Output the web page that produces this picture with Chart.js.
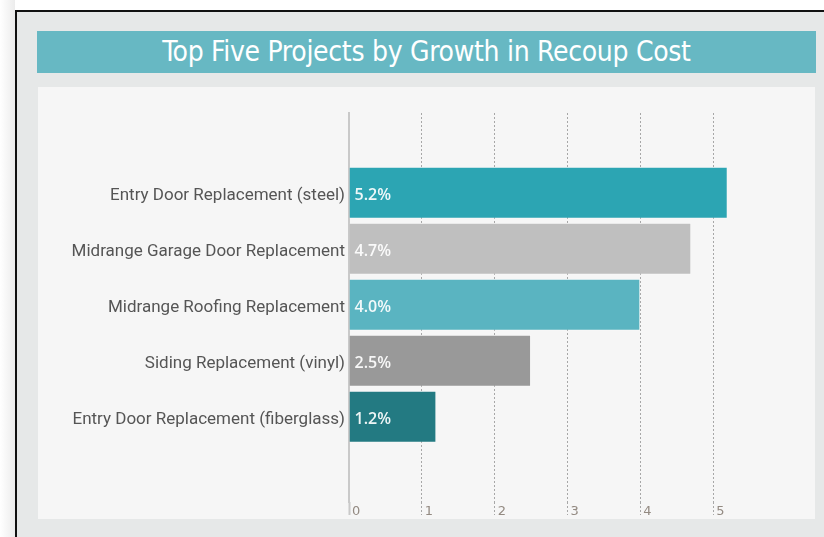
<!DOCTYPE html>
<html>
<head>
<meta charset="utf-8">
<script src="https://cdn.jsdelivr.net/npm/chart.js@4"></script>
<style>
  html, body { margin: 0; padding: 0; background: #ffffff; width: 824px; height: 537px; overflow: hidden; }
  #shadow { position: absolute; left: 0; top: 0; width: 15px; height: 537px;
    background: linear-gradient(to right, #ffffff, #ececec); }
  #frame { position: absolute; left: 15px; top: 10px; width: 820px; height: 540px;
    border-top: 2px solid #111; border-left: 2px solid #111; background: #e6e8e8; }
  #title { position: absolute; left: 37px; top: 31px; width: 779px; height: 42px;
    background: #67b8c3; color: #ffffff; text-align: center; line-height: 42px;
    font-family: "DejaVu Sans Condensed", "Liberation Sans", sans-serif; font-size: 28px; letter-spacing: -0.3px; }
  #panel { position: absolute; left: 38px; top: 87px; width: 777px; height: 432px; background: #f6f6f6; }
  canvas { display: block; }
</style>
</head>
<body>
<div id="shadow"></div>
<div id="frame"></div>
<div id="title">Top Five Projects by Growth in Recoup Cost</div>
<div id="panel"><canvas id="c" width="777" height="432"></canvas></div>
<script>
const categories = [
  "Entry Door Replacement (steel)",
  "Midrange Garage Door Replacement",
  "Midrange Roofing Replacement",
  "Siding Replacement (vinyl)",
  "Entry Door Replacement (fiberglass)"
];
const values = [5.2, 4.7, 4.0, 2.5, 1.2];
const barColors = ["#2ca5b3", "#bfbfbf", "#5ab4c1", "#999999", "#237a82"];
const xTicks = [0, 1, 2, 3, 4, 5];

const gridColor = 'rgba(140,140,140,0.75)';
const zeroColor = '#c9c9c9';

const valueLabels = {
  id: 'valueLabels',
  afterDatasetsDraw(chart) {
    const ctx = chart.ctx;
    const meta = chart.getDatasetMeta(0);
    ctx.save();
    ctx.font = '600 16px "Open Sans", "Liberation Sans", sans-serif';
    ctx.fillStyle = 'rgba(255,255,255,0.92)';
    ctx.textBaseline = 'middle';
    ctx.textAlign = 'left';
    meta.data.forEach((bar, i) => {
      ctx.fillText(values[i].toFixed(1) + '%', bar.base + 5, bar.y + 3);
    });
    ctx.restore();
  }
};

new Chart(document.getElementById('c'), {
  type: 'bar',
  data: {
    datasets: [{
      data: categories.map((c, i) => ({ y: i, x: values[i] })),
      backgroundColor: barColors,
      borderColor: 'rgba(255,255,255,0.3)',
      borderWidth: 1,
      categoryPercentage: 1,
      barPercentage: 0.93
    }]
  },
  options: {
    indexAxis: 'y',
    responsive: false,
    animation: false,
    devicePixelRatio: 1,
    layout: { padding: { top: 26, right: 29, left: 0, bottom: 0 } },
    plugins: { legend: { display: false }, tooltip: { enabled: false }, title: { display: false } },
    scales: {
      y: {
        type: 'linear',
        reverse: true,
        offset: false,
        min: -1.425,
        max: 5.521,
        afterBuildTicks: (scale) => { scale.ticks = categories.map((c, i) => ({ value: i })); },
        afterFit: (scale) => { scale.width = 311; },
        ticks: {
          callback: (v) => categories[v],
          padding: 4,
          labelOffset: 3,
          color: '#555555',
          font: { family: 'Roboto, "Liberation Sans", sans-serif', size: 17 }
        },
        grid: { display: false, drawTicks: false, offset: false },
        border: { display: true, color: zeroColor, width: 2 }
      },
      x: {
        type: 'linear',
        min: 0,
        max: 6,
        afterBuildTicks: (scale) => { scale.ticks = xTicks.map(v => ({ value: v })); },
        afterFit: (scale) => { scale.height = 17; },
        ticks: {
          align: 'start',
          labelOffset: 3,
          padding: -11,
          color: '#938a82',
          font: { family: '"DejaVu Sans", sans-serif', size: 13 }
        },
        grid: {
          drawTicks: true,
          tickLength: 13,
          color: (ctx) => (ctx.tick && ctx.tick.value > 0 && ctx.tick.value <= 5) ? gridColor : 'rgba(0,0,0,0)',
          tickColor: (ctx) => (ctx.tick && ctx.tick.value === 0) ? zeroColor : gridColor,
          tickWidth: (ctx) => (ctx.tick && ctx.tick.value === 0) ? 2 : 1,
          tickBorderDash: (ctx) => (ctx.tick && ctx.tick.value === 0) ? [] : [2, 2],
          lineWidth: 1
        },
        border: { display: false, dash: [2, 2] }
      }
    }
  },
  plugins: [valueLabels]
});
</script>
</body>
</html>
